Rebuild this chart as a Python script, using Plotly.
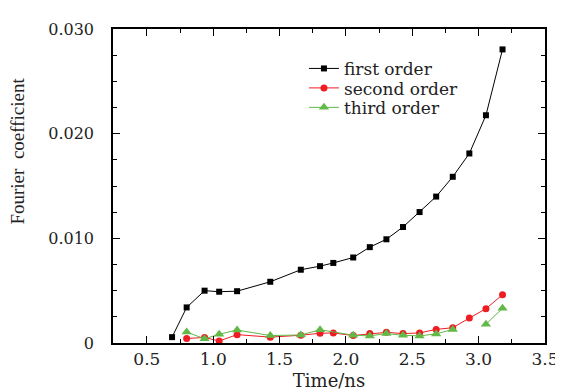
import plotly.graph_objects as go

time_first = [0.69, 0.80, 0.935, 1.045, 1.18, 1.43, 1.66, 1.805, 1.905, 2.055,
              2.18, 2.305, 2.43, 2.555, 2.68, 2.805, 2.93, 3.055, 3.18]
first_order = [0.00056, 0.0034, 0.0050, 0.0049, 0.00495, 0.00585, 0.0070, 0.00734,
               0.00765, 0.00817, 0.00916, 0.00991, 0.01108, 0.01251, 0.01399,
               0.01588, 0.01811, 0.02176, 0.02805]

time_second = [0.80, 0.935, 1.045, 1.18, 1.43, 1.66, 1.805, 1.905, 2.055,
               2.18, 2.305, 2.43, 2.555, 2.68, 2.805, 2.93, 3.055, 3.18]
second_order = [0.00043, 0.00053, 0.00019, 0.00080, 0.00056, 0.00074, 0.00093,
                0.00096, 0.00071, 0.00090, 0.00102, 0.00090, 0.00096, 0.00130,
                0.00146, 0.00238, 0.00328, 0.00461]

time_third = [0.80, 0.935, 1.045, 1.18, 1.43, 1.66, 1.805, 2.055,
              2.18, 2.305, 2.43, 2.555, 2.68, 2.805, 2.93, 3.055, 3.18]
third_order = [0.00105, 0.00040, 0.00084, 0.00124, 0.00071, 0.00077, 0.00127,
               0.00074, 0.00068, 0.00090, 0.00074, 0.00068, 0.00087, 0.00130,
               None, 0.00180, 0.00331]

x_ticks = [0.5, 1.0, 1.5, 2.0, 2.5, 3.0, 3.5]
x_ticklabels = ["0.5", "1.0", "1.5", "2.0", "2.5", "3.0", "3.5"]
y_ticks = [0, 0.010, 0.020, 0.030]
y_ticklabels = ["0", "0.010", "0.020", "0.030"]

FONT_H = "DejaVu Serif"
FONT_V = "Liberation Serif"
TEXT_COLOR = "#222222"

fig = go.Figure()
fig.add_trace(go.Scatter(x=time_first, y=first_order, name="first order",
                         mode="lines+markers", legend="legend2",
                         line=dict(color="#000000", width=1),
                         marker=dict(symbol="square", size=6, color="#000000")))
fig.add_trace(go.Scatter(x=time_second, y=second_order, name="second order",
                         mode="lines+markers", legend="legend3",
                         line=dict(color="#EE1D23", width=1),
                         marker=dict(symbol="circle", size=7, color="#EE1D23")))
fig.add_trace(go.Scatter(x=time_third, y=third_order, name="third order",
                         mode="lines+markers", connectgaps=False, legend="legend4",
                         line=dict(color="#62B947", width=1),
                         marker=dict(symbol="triangle-up", size=9, color="#62B947")))

axis_common = dict(showline=True, linecolor="black", linewidth=1.5, mirror="allticks",
                   ticks="inside", ticklen=7, tickwidth=1.2, tickcolor="black",
                   showgrid=False, zeroline=False)

fig.update_xaxes(range=[0.245, 3.5], tickvals=x_ticks, ticktext=x_ticklabels,
                 tickfont=dict(family=FONT_H, size=17, color=TEXT_COLOR),
                 minor=dict(ticks="inside", ticklen=4, tickwidth=1.2, tickcolor="black",
                            dtick=0.25, tick0=0.25, showgrid=False),
                 title=dict(text="Time/ns", font=dict(family=FONT_H, size=18, color=TEXT_COLOR),
                            standoff=6),
                 **axis_common)
fig.update_yaxes(range=[0, 0.030], tickvals=y_ticks, ticktext=y_ticklabels,
                 tickfont=dict(family=FONT_H, size=16, color=TEXT_COLOR),
                 ticklabelstandoff=14,
                 minor=dict(ticks="inside", ticklen=4, tickwidth=1.2, tickcolor="black",
                            dtick=0.0025, tick0=0, showgrid=False),
                 **axis_common)

fig.add_annotation(text="Fourier  coefficient", textangle=-90, xref="paper", yref="paper",
                   x=-0.222, y=0.61, xanchor="center", yanchor="middle", showarrow=False,
                   font=dict(family=FONT_V, size=19, color=TEXT_COLOR))

legend_style = dict(x=0.442, xanchor="left", yanchor="middle",
                    bgcolor="rgba(0,0,0,0)", borderwidth=0,
                    font=dict(family=FONT_H, size=17, color=TEXT_COLOR),
                    itemwidth=30)

fig.update_layout(width=563, height=392,
                  margin=dict(l=105, r=15, t=17, b=52),
                  plot_bgcolor="white", paper_bgcolor="white",
                  legend2=dict(y=0.873, **legend_style),
                  legend3=dict(y=0.811, **legend_style),
                  legend4=dict(y=0.749, **legend_style))

fig.write_html("out.html")
